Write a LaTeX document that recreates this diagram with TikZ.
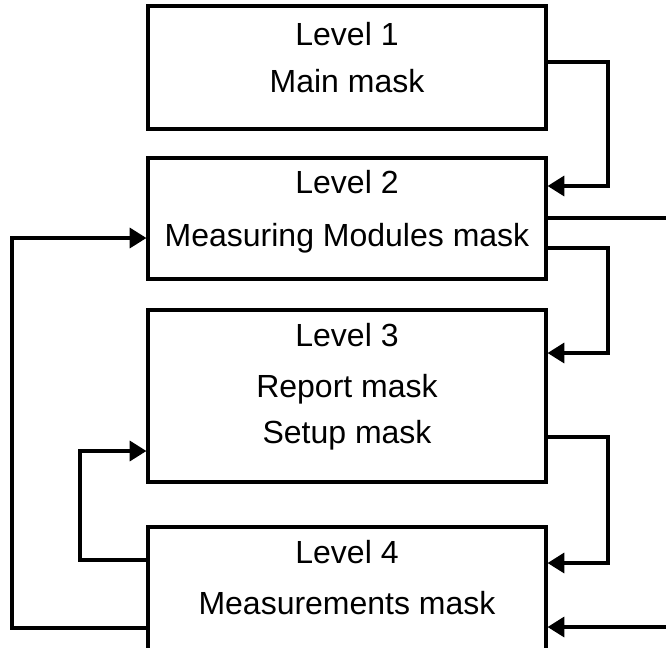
\documentclass[tikz,border=0pt]{standalone}
\usepackage{fontspec}
\setmainfont{Liberation Sans}
\usetikzlibrary{arrows.meta}

\begin{document}
\begin{tikzpicture}[x=0.75pt,y=-0.75pt,line width=2.4pt,
  maskbox/.style={draw,minimum width=298.5pt,inner sep=0pt},
  masktext/.style={anchor=base,font=\fontsize{24}{28}\selectfont},
  flow/.style={-{Triangle[length=12.5pt,width=15pt]}}]
  \useasboundingbox (0,0) rectangle (666,647);
  \clip (0,0) rectangle (666,647);
  \node[maskbox,minimum height=92.25pt] (m1) at (347,67.5) {};
  \node[maskbox,minimum height=90.75pt] (m2) at (347,218.5) {};
  \node[maskbox,minimum height=129pt] (m3) at (347,396) {};
  \node[maskbox,minimum height=129.75pt] (m4) at (347,613.5) {};
  \node[masktext] (t1a) at (347,45) {Level 1};
  \node[masktext] (t1b) at (347,92) {Main mask};
  \node[masktext] (t2a) at (347,193) {Level 2};
  \node[masktext] (t2b) at (347,246) {Measuring Modules mask};
  \node[masktext] (t3a) at (347,346) {Level 3};
  \node[masktext] (t3b) at (347,397) {Report mask};
  \node[masktext] (t3c) at (347,443) {Setup mask};
  \node[masktext] (t4a) at (347,563) {Level 4};
  \node[masktext] (t4b) at (347,614) {Measurements mask};
  \coordinate (out2) at (666,218);
  \coordinate (in4) at (666,627);
  \draw[flow] (m1.east |- 0,62) -| (608,186) -- (m2.east |- 0,186);
  \draw (m2.east |- 0,218) -- (out2);
  \draw[flow] (m2.east |- 0,248) -| (608,353) -- (m3.east |- 0,353);
  \draw[flow] (m3.east |- 0,437) -| (608,563) -- (m4.east |- 0,563);
  \draw[flow] (in4) -- (m4.east |- 0,627);
  \draw[flow] (m4.west |- 0,628) -- (12,628) |- (m2.west |- 0,238);
  \draw[flow] (m4.west |- 0,560) -- (80,560) |- (m3.west |- 0,451);
\end{tikzpicture}
\end{document}
